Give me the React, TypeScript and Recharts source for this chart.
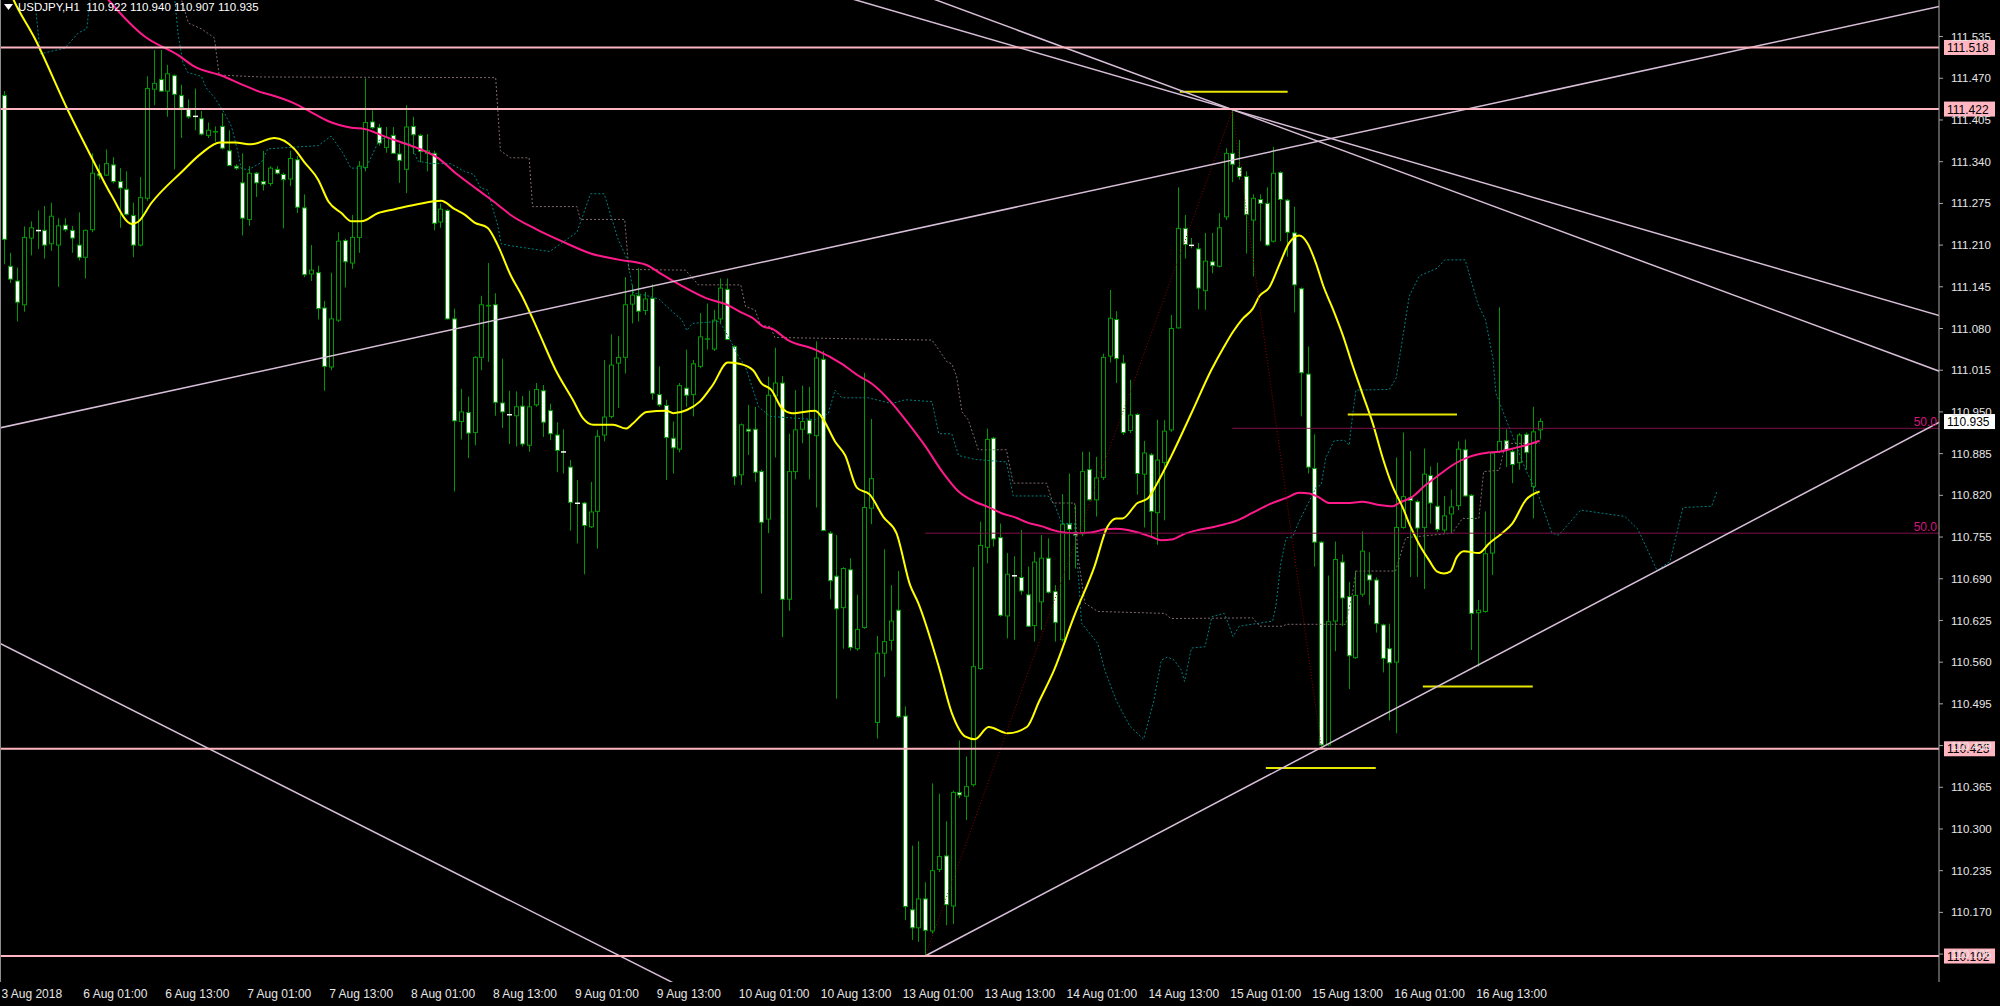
import React from 'react';
import { ComposedChart, Bar, Line, XAxis, YAxis, ReferenceLine } from 'recharts';

type Ohlc = [number, number, number, number];

// hourly candles, open / high / low / close, one array per trading day
const aug03: Ohlc[] = [
  [111.443, 111.45, 111.18, 111.219], [111.177, 111.198, 111.151, 111.157], [111.154, 111.175, 111.091, 111.121],
  [111.117, 111.239, 111.106, 111.222], [111.221, 111.247, 111.194, 111.237], [111.233, 111.264, 111.204, 111.232],
  [111.233, 111.271, 111.189, 111.21], [111.212, 111.276, 111.201, 111.255], [111.21, 111.252, 111.145, 111.24],
  [111.241, 111.252, 111.231, 111.234], [111.233, 111.24, 111.198, 111.221],
];
const aug06: Ohlc[] = [
  [111.21, 111.261, 111.186, 111.191], [111.191, 111.234, 111.158, 111.233], [111.234, 111.353, 111.23, 111.322],
  [111.321, 111.336, 111.312, 111.318], [111.319, 111.359, 111.318, 111.337], [111.335, 111.347, 111.306, 111.309],
  [111.309, 111.33, 111.237, 111.299], [111.297, 111.325, 111.256, 111.258], [111.256, 111.276, 111.191, 111.21],
  [111.21, 111.316, 111.208, 111.284], [111.283, 111.473, 111.279, 111.454], [111.453, 111.514, 111.428, 111.462],
  [111.468, 111.514, 111.449, 111.45], [111.45, 111.491, 111.41, 111.477], [111.474, 111.476, 111.328, 111.445],
  [111.443, 111.46, 111.377, 111.424], [111.422, 111.437, 111.407, 111.41], [111.411, 111.454, 111.389, 111.41],
  [111.407, 111.419, 111.381, 111.383], [111.381, 111.401, 111.377, 111.389], [111.386, 111.395, 111.371, 111.387],
  [111.395, 111.416, 111.359, 111.361], [111.357, 111.389, 111.333, 111.334], [111.333, 111.336, 111.327, 111.33],
];
const aug07: Ohlc[] = [
  [111.307, 111.353, 111.225, 111.252], [111.25, 111.333, 111.24, 111.322], [111.322, 111.324, 111.285, 111.307],
  [111.309, 111.357, 111.295, 111.305], [111.306, 111.333, 111.302, 111.33], [111.328, 111.333, 111.32, 111.322],
  [111.32, 111.323, 111.236, 111.312], [111.313, 111.357, 111.302, 111.345], [111.343, 111.349, 111.26, 111.269],
  [111.268, 111.289, 111.16, 111.164], [111.165, 111.21, 111.154, 111.171], [111.167, 111.178, 111.094, 111.111],
  [111.112, 111.123, 110.983, 111.021], [111.02, 111.167, 111.015, 111.095], [111.093, 111.23, 111.09, 111.216],
  [111.217, 111.22, 111.144, 111.184], [111.182, 111.257, 111.173, 111.222], [111.222, 111.341, 111.198, 111.333],
  [111.331, 111.47, 111.325, 111.401], [111.402, 111.42, 111.391, 111.393], [111.393, 111.399, 111.365, 111.369],
  [111.362, 111.394, 111.354, 111.378], [111.381, 111.394, 111.352, 111.353], [111.352, 111.368, 111.307, 111.342],
];
const aug08: Ohlc[] = [
  [111.328, 111.428, 111.291, 111.394], [111.395, 111.41, 111.352, 111.382], [111.381, 111.383, 111.339, 111.356],
  [111.353, 111.383, 111.325, 111.357], [111.353, 111.357, 111.233, 111.244], [111.246, 111.275, 111.237, 111.266],
  [111.264, 111.266, 111.094, 111.095], [111.095, 111.111, 110.826, 110.936], [110.935, 110.986, 110.907, 110.95],
  [110.949, 110.974, 110.878, 110.917], [110.918, 111.037, 110.898, 111.035], [111.035, 111.131, 111.015, 111.117],
  [111.116, 111.182, 111.028, 111.116], [111.117, 111.135, 110.944, 110.965], [110.964, 111.033, 110.925, 110.95],
  [110.946, 110.983, 110.9, 110.944], [110.944, 110.982, 110.896, 110.958], [110.959, 110.975, 110.896, 110.9],
  [110.898, 110.983, 110.888, 110.958], [110.961, 110.995, 110.958, 110.985], [110.983, 110.992, 110.911, 110.934],
  [110.952, 110.963, 110.906, 110.916], [110.914, 110.934, 110.856, 110.89], [110.888, 110.923, 110.854, 110.886],
];
const aug09: Ohlc[] = [
  [110.864, 110.875, 110.765, 110.809], [110.808, 110.844, 110.745, 110.807], [110.808, 110.81, 110.697, 110.773],
  [110.771, 110.841, 110.769, 110.794], [110.795, 110.922, 110.737, 110.912], [110.914, 111.031, 110.904, 110.942],
  [110.943, 111.071, 110.94, 111.023], [111.026, 111.068, 110.956, 111.035], [111.035, 111.16, 111.01, 111.117],
  [111.118, 111.148, 111.088, 111.132], [111.131, 111.174, 111.091, 111.107], [111.108, 111.137, 111.101, 111.126],
  [111.127, 111.149, 110.969, 110.979], [110.977, 111.021, 110.958, 110.961], [110.96, 110.969, 110.844, 110.91],
  [110.909, 110.935, 110.854, 110.894], [110.892, 110.995, 110.887, 110.991], [110.987, 111.047, 110.958, 110.976],
  [110.977, 111.031, 110.943, 111.025], [111.021, 111.104, 111.018, 111.067], [111.064, 111.119, 111.047, 111.064],
  [111.048, 111.109, 111.045, 111.093], [111.095, 111.158, 111.088, 111.143], [111.141, 111.158, 111.062, 111.063],
];
const aug10: Ohlc[] = [
  [111.052, 111.054, 110.836, 110.849], [110.852, 110.932, 110.836, 110.93], [110.923, 110.961, 110.883, 110.92],
  [110.923, 110.958, 110.841, 110.856], [110.857, 110.86, 110.667, 110.778], [110.783, 111.005, 110.761, 110.976],
  [110.975, 111.05, 110.879, 110.995], [110.995, 111.006, 110.599, 110.658], [110.658, 110.916, 110.64, 110.857],
  [110.857, 110.984, 110.845, 110.922], [110.923, 110.991, 110.901, 110.935], [110.937, 110.989, 110.845, 110.916],
  [110.913, 111.06, 110.801, 111.034], [111.032, 111.045, 110.764, 110.765], [110.761, 110.764, 110.658, 110.687],
  [110.694, 110.758, 110.503, 110.643], [110.645, 110.708, 110.581, 110.706], [110.704, 110.722, 110.578, 110.583],
  [110.581, 110.665, 110.578, 110.611], [110.614, 111.011, 110.612, 110.801], [110.8, 110.939, 110.775, 110.846],
  [110.466, 110.601, 110.441, 110.574], [110.574, 110.736, 110.537, 110.592], [110.594, 110.68, 110.578, 110.624],
];
const aug13: Ohlc[] = [
  [110.641, 110.702, 110.473, 110.475], [110.476, 110.491, 110.158, 110.179], [110.174, 110.274, 110.127, 110.146],
  [110.146, 110.281, 110.124, 110.191], [110.191, 110.217, 110.102, 110.142], [110.141, 110.371, 110.137, 110.235],
  [110.237, 110.355, 110.233, 110.257], [110.258, 110.312, 110.15, 110.182], [110.18, 110.36, 110.152, 110.357],
  [110.357, 110.438, 110.348, 110.353], [110.351, 110.413, 110.314, 110.366], [110.369, 110.708, 110.366, 110.553],
  [110.55, 110.779, 110.548, 110.742], [110.739, 110.924, 110.714, 110.907], [110.909, 110.911, 110.74, 110.752],
  [110.754, 110.776, 110.631, 110.633], [110.632, 110.73, 110.597, 110.697], [110.695, 110.725, 110.595, 110.693],
  [110.692, 110.766, 110.665, 110.671], [110.665, 110.709, 110.615, 110.616], [110.617, 110.732, 110.592, 110.716],
  [110.654, 110.758, 110.61, 110.722], [110.722, 110.753, 110.667, 110.669], [110.67, 110.68, 110.592, 110.622],
];
const aug14: Ohlc[] = [
  [110.595, 110.822, 110.592, 110.775], [110.775, 110.854, 110.688, 110.767], [110.762, 110.805, 110.706, 110.758],
  [110.76, 110.888, 110.756, 110.857], [110.86, 110.888, 110.812, 110.813], [110.813, 110.88, 110.787, 110.847],
  [110.848, 111.041, 110.844, 111.035], [111.037, 111.14, 111.027, 111.096], [111.094, 111.107, 110.995, 111.033],
  [111.026, 111.039, 110.914, 110.918], [110.921, 111.0, 110.917, 110.945], [110.946, 110.948, 110.821, 110.854],
  [110.853, 110.905, 110.77, 110.886], [110.883, 110.886, 110.756, 110.795], [110.793, 110.938, 110.743, 110.875],
  [110.871, 110.937, 110.781, 110.92], [110.922, 111.101, 110.919, 111.08], [111.081, 111.3, 111.08, 111.236],
  [111.236, 111.257, 111.189, 111.211], [111.21, 111.221, 111.205, 111.208], [111.204, 111.213, 111.11, 111.143],
  [111.139, 111.229, 111.109, 111.185], [111.184, 111.229, 111.166, 111.178], [111.177, 111.26, 111.175, 111.237],
];
const aug15: Ohlc[] = [
  [111.254, 111.361, 111.249, 111.353], [111.353, 111.42, 111.308, 111.336], [111.331, 111.374, 111.312, 111.317],
  [111.317, 111.325, 111.197, 111.258], [111.249, 111.289, 111.161, 111.283], [111.281, 111.289, 111.216, 111.275],
  [111.275, 111.3, 111.208, 111.21], [111.216, 111.363, 111.214, 111.322], [111.323, 111.325, 111.216, 111.281],
  [111.28, 111.282, 111.192, 111.23], [111.229, 111.27, 111.105, 111.148], [111.142, 111.144, 110.943, 111.011],
  [111.009, 111.052, 110.854, 110.864], [110.862, 110.915, 110.709, 110.747], [110.747, 110.749, 110.429, 110.431],
  [110.431, 110.695, 110.429, 110.623], [110.624, 110.748, 110.577, 110.72], [110.716, 110.728, 110.616, 110.66],
  [110.662, 110.685, 110.518, 110.57], [110.567, 110.702, 110.565, 110.664], [110.666, 110.764, 110.662, 110.733],
  [110.696, 110.731, 110.649, 110.688], [110.688, 110.692, 110.606, 110.62], [110.618, 110.62, 110.544, 110.566],
];
const aug16: Ohlc[] = [
  [110.581, 110.62, 110.469, 110.559], [110.56, 110.879, 110.449, 110.77], [110.77, 110.918, 110.768, 110.818],
  [110.816, 110.889, 110.693, 110.812], [110.81, 110.813, 110.693, 110.769], [110.77, 110.893, 110.674, 110.853],
  [110.851, 110.865, 110.776, 110.808], [110.803, 110.871, 110.763, 110.767], [110.766, 110.819, 110.761, 110.788],
  [110.791, 110.829, 110.761, 110.802], [110.804, 110.904, 110.797, 110.892], [110.891, 110.907, 110.818, 110.819],
  [110.82, 110.822, 110.579, 110.636], [110.637, 110.657, 110.553, 110.641], [110.639, 110.795, 110.637, 110.729],
  [110.73, 110.888, 110.696, 110.886], [110.888, 111.113, 110.886, 110.904], [110.905, 110.923, 110.864, 110.891],
  [110.888, 110.891, 110.839, 110.868], [110.871, 110.917, 110.86, 110.914], [110.915, 110.918, 110.86, 110.887],
  [110.834, 110.958, 110.784, 110.919], [110.922, 110.94, 110.907, 110.935],
];

// indicator readings: [bar index, price]
const yellowMa = [
  [0, 111.63], [1.5, 111.592], [4.6, 111.532], [9.5, 111.419], [12.9, 111.347], [15.8, 111.288], [18.8, 111.243],
  [19.7, 111.246], [21.7, 111.276], [26.1, 111.324], [29, 111.353], [31.7, 111.37], [33.9, 111.37], [36.3, 111.367],
  [39.7, 111.377], [42.6, 111.36], [44.1, 111.339], [46.1, 111.312], [47.6, 111.278], [49.5, 111.26], [51, 111.247],
  [52.4, 111.247], [54.9, 111.26], [57.3, 111.266], [61.2, 111.275], [64.1, 111.279], [66.1, 111.266], [67.5, 111.258],
  [69, 111.245], [70.9, 111.237], [72.4, 111.21], [74.3, 111.163], [76, 111.13], [78.5, 111.072], [80.9, 111.015],
  [83.4, 110.969], [84.9, 110.94], [86.4, 110.93], [89.3, 110.93], [91.2, 110.924], [92.2, 110.932], [94.2, 110.95],
  [97.1, 110.952], [98.1, 110.948], [100.1, 110.953], [102, 110.966], [103.9, 110.992], [106.1, 111.027],
  [107.8, 111.025], [109.8, 111.015], [111, 110.995], [112.5, 110.984], [114, 110.956], [115.5, 110.948],
  [118.9, 110.952], [120.1, 110.938], [121.8, 110.904], [123.3, 110.882], [125, 110.832], [126.9, 110.821],
  [128.9, 110.786], [130.8, 110.761], [132.8, 110.68], [134, 110.652], [137, 110.553], [138.9, 110.481],
  [140.9, 110.444], [142.3, 110.44], [144.3, 110.459], [147.1, 110.449], [149.9, 110.459], [151.7, 110.499],
  [153.9, 110.548], [156.8, 110.631], [159.8, 110.709], [161.7, 110.771], [163, 110.784], [163.9, 110.784],
  [166.1, 110.808], [167.6, 110.815], [169, 110.839], [171, 110.88], [174, 110.948], [176.9, 111.015], [178.8, 111.052],
  [180.1, 111.075], [181.5, 111.095], [183, 111.111], [184, 111.131], [185.4, 111.144], [186.9, 111.18], [188.3, 111.213],
  [189.8, 111.225], [191, 111.213], [192.3, 111.18], [193.3, 111.147], [194.7, 111.111], [196.2, 111.069],
  [197.6, 111.023], [199.1, 110.977], [200.6, 110.931], [202, 110.879], [203.5, 110.833], [205, 110.8], [205.9, 110.776],
  [207.3, 110.745], [208.8, 110.719], [210, 110.701], [211, 110.698], [211.9, 110.701], [212.9, 110.724],
  [213.9, 110.733], [216.1, 110.73], [217.6, 110.745], [219.5, 110.761], [221, 110.776], [223, 110.813], [225, 110.826],
];
const pinkMa = [
  [14, 111.61], [15.4, 111.592], [20.7, 111.535], [25.6, 111.506], [28, 111.488], [32, 111.474], [34.8, 111.461],
  [37.8, 111.448], [39.2, 111.444], [42.6, 111.431], [45.1, 111.417], [47.6, 111.403], [51, 111.393], [52.9, 111.391],
  [55.9, 111.379], [58.3, 111.37], [60.7, 111.361], [63.6, 111.346], [66.5, 111.32], [69.5, 111.296], [72.4, 111.273],
  [74.3, 111.257], [78, 111.235], [82, 111.215], [86, 111.197], [90.3, 111.187], [94.2, 111.179], [96.2, 111.166],
  [99.1, 111.148], [103, 111.127], [106, 111.117], [107.9, 111.106], [109.8, 111.096], [111.3, 111.083],
  [112.5, 111.08], [114.9, 111.062], [118.9, 111.047], [122.8, 111.025], [125.3, 111.006], [127.2, 110.994],
  [130.2, 110.963], [132.1, 110.938], [135, 110.897], [137.5, 110.857], [139.9, 110.826], [142.3, 110.81],
  [144.2, 110.802], [146.2, 110.792], [148.1, 110.786], [150.1, 110.777], [152, 110.772], [154, 110.765],
  [155.4, 110.762], [156.9, 110.761], [159.3, 110.762], [161.3, 110.767], [162.8, 110.768], [164.7, 110.766],
  [166.2, 110.762], [168.2, 110.755], [169.6, 110.75], [171.1, 110.751], [173, 110.76], [175, 110.766],
  [177.4, 110.771], [178.9, 110.775], [180.5, 110.78], [183, 110.793], [185.4, 110.806], [187.9, 110.816],
  [189.8, 110.824], [191.3, 110.823], [192.8, 110.816], [194.2, 110.808], [196.7, 110.808], [199.1, 110.81],
  [201.5, 110.805], [203.5, 110.803], [204.4, 110.808], [206.4, 110.818], [208.3, 110.836], [210.3, 110.852],
  [212.7, 110.87], [214.7, 110.88], [217.1, 110.886], [219.1, 110.888], [221.1, 110.893], [223, 110.898], [225, 110.905],
];
const spanLine = [
  [4, 111.62], [4.6, 111.592], [5.4, 111.508], [9, 111.517], [11, 111.541], [12.2, 111.547], [12.7, 111.592],
  [13.2, 111.62], [24.6, 111.62], [25.1, 111.592], [25.6, 111.538], [26.3, 111.494], [27, 111.479], [29, 111.473],
  [29.7, 111.455], [30.9, 111.44], [32.2, 111.419], [33.4, 111.395], [34.4, 111.353], [34.8, 111.33], [35.8, 111.327],
  [37.8, 111.339], [38.7, 111.36], [46.1, 111.365], [48, 111.38], [49.7, 111.354], [50.9, 111.33], [53.1, 111.33],
  [55, 111.373], [56, 111.378], [59.7, 111.367], [60.7, 111.341], [62.6, 111.337], [65.5, 111.337], [67.5, 111.325],
  [68.9, 111.32], [69.9, 111.299], [70.9, 111.296], [72.4, 111.241], [72.9, 111.212], [74.3, 111.209], [80, 111.2],
  [84, 111.23], [86, 111.29], [88, 111.29], [90, 111.22], [91.4, 111.187], [92.3, 111.135], [94, 111.132],
  [96, 111.126], [97.5, 111.111], [99.4, 111.093], [100.1, 111.077], [100.9, 111.088], [104.8, 111.091],
  [105.5, 111.08], [106.7, 111.057], [107.7, 111.036], [108.7, 111.02], [109.9, 110.981], [110.6, 110.958],
  [112.3, 110.943], [118.9, 110.938], [120.8, 110.947], [121.8, 110.984], [122.8, 110.972], [126.7, 110.972],
  [130.1, 110.963], [132.1, 110.969], [136, 110.966], [137, 110.916], [138.9, 110.916], [139.9, 110.882],
  [142.3, 110.876], [146.9, 110.872], [147.9, 110.819], [153, 110.819], [154, 110.805], [155, 110.776],
  [156.9, 110.776], [157.6, 110.672], [157.9, 110.621], [160.3, 110.589], [161.3, 110.548], [163, 110.5],
  [165, 110.46], [167, 110.44], [168.5, 110.5], [169.6, 110.563], [170.5, 110.568], [171.5, 110.563],
  [172.5, 110.548], [173, 110.53], [174, 110.582], [176, 110.584], [177, 110.631], [178.8, 110.636],
  [179.1, 110.629], [180.1, 110.6], [181, 110.616], [185.9, 110.624], [186.4, 110.649], [187.1, 110.715],
  [187.9, 110.754], [188.8, 110.755], [189.8, 110.78], [192.3, 110.833], [193, 110.836], [193.7, 110.879],
  [194.9, 110.905], [196.4, 110.906], [197.1, 110.898], [197.6, 110.944], [198.1, 110.984], [203, 110.985],
  [204, 111.003], [205, 111.069], [205.9, 111.13], [207.4, 111.162], [210, 111.174], [211.1, 111.187],
  [214.1, 111.187], [216, 111.117], [217.1, 111.093], [218.2, 111.031], [218.6, 110.979], [223, 110.859],
  [224.9, 110.818], [226.8, 110.761], [227.8, 110.758], [231, 110.797], [237.5, 110.787], [239.4, 110.767],
  [242.2, 110.703], [244.1, 110.717], [246, 110.801], [250.2, 110.803], [251, 110.827],
];
const baseLine = [
  [25, 111.62], [26.1, 111.592], [27.1, 111.556], [29, 111.547], [30.9, 111.533], [31.6, 111.475], [37.8, 111.472],
  [72.1, 111.471], [72.8, 111.357], [74.3, 111.346], [77, 111.346], [77.5, 111.27], [84, 111.27], [84.5, 111.25],
  [91, 111.25], [91.6, 111.172], [99.9, 111.171], [101.8, 111.148], [108, 111.148], [108.7, 111.114],
  [110.1, 111.109], [110.9, 111.085], [112.3, 111.083], [113, 111.066], [136, 111.062], [137, 111.047],
  [138.2, 111.028], [138.9, 111.025], [139.6, 111.006], [140.4, 110.95], [141.3, 110.938], [142.8, 110.891],
  [146.9, 110.891], [147.9, 110.839], [152.8, 110.839], [153.7, 110.808], [156.9, 110.808], [157.4, 110.724],
  [158.4, 110.652], [160.3, 110.639], [170.1, 110.636], [171, 110.628], [183, 110.629], [184, 110.616],
  [187.4, 110.616], [187.9, 110.619], [196.6, 110.619], [197.6, 110.668], [198.1, 110.702], [203.9, 110.702],
  [205.4, 110.754], [212.2, 110.761], [213.7, 110.784], [216.1, 110.784], [216.8, 110.857], [219.1, 110.859],
  [220, 110.901], [225, 110.901],
];

// drawn objects
const trendLines = [
  [[-1, 110.924], [290, 111.597]],
  [[120, 111.607], [290, 111.08]],
  [[130, 111.618], [290, 110.988]],
  [[-1, 110.592], [100, 110.05]],
  [[135, 110.102], [290, 110.97]],
];
const levels = [111.518, 111.422, 110.425, 110.102];
const yellowMarks = [
  [[172.3, 111.449], [188.1, 111.449]],
  [[196.9, 110.946], [212.9, 110.946]],
  [[207.9, 110.522], [224, 110.522]],
  [[184.9, 110.395], [201, 110.395]],
];
const fibBases = [
  [[135, 110.102], [180, 111.42]],
  [[180, 111.42], [193, 110.429]],
];
const fibHalf = [
  [135, 110.761],
  [180, 110.9245],
];
const lastPrice = 110.935;
const quote = ['110.922', '110.940', '110.907', '110.935'];

const priceTicks = [
  111.535, 111.47, 111.405, 111.34, 111.275, 111.21, 111.145, 111.08, 111.015, 110.95, 110.885, 110.82, 110.755,
  110.69, 110.625, 110.56, 110.495, 110.43, 110.365, 110.3, 110.235, 110.17, 110.105,
];
const timeTickIdx = [0, 12, 24, 36, 48, 60, 72, 84, 96, 108, 120, 132, 144, 156, 168, 180, 192, 204, 216];
const timeLabels = [
  '3 Aug 2018', '6 Aug 01:00', '6 Aug 13:00', '7 Aug 01:00', '7 Aug 13:00', '8 Aug 01:00', '8 Aug 13:00',
  '9 Aug 01:00', '9 Aug 13:00', '10 Aug 01:00', '10 Aug 13:00', '13 Aug 01:00', '13 Aug 13:00', '14 Aug 01:00',
  '14 Aug 13:00', '15 Aug 01:00', '15 Aug 13:00', '16 Aug 01:00', '16 Aug 13:00',
];

const SLOTS = 284;
const PLOT_BOTTOM = 982;
const FONT = "'Liberation Sans', Arial, sans-serif";
const WICK = '#009a00';
const AXIS = '#a8a8a8';

const candles = [aug03, aug06, aug07, aug08, aug09, aug10, aug13, aug14, aug15, aug16].flat();
const rows = Array.from({ length: SLOTS }, (_, i) => {
  const k = candles[i];
  return k ? { i, o: k[0], h: k[1], l: k[2], c: k[3] } : { i };
});
const pts = (list: number[][]) => list.map(([x, v]) => ({ x, v }));
const seg = (s: number[][]) => s.map(([x, y]) => ({ x, y }));

function Candle(props: any) {
  const { x, y, width, height, payload } = props;
  if (!payload || payload.h == null) return <g />;
  const { o, h, l, c } = payload;
  const top = Math.min(y, y + height);
  const bottom = Math.max(y, y + height);
  const span = h - l || 1;
  const at = (v: number) => top + ((h - v) / span) * (bottom - top);
  const cx = Math.round(x + width / 2) + 0.5;
  const bodyTop = at(Math.max(o, c));
  const bodyH = at(Math.min(o, c)) - bodyTop;
  const bear = c < o;
  return (
    <g>
      <line x1={cx} x2={cx} y1={top} y2={bottom} stroke={WICK} />
      {bodyH < 1.5 ? (
        <rect x={cx - 2.5} y={bodyTop - 0.5} width={5} height={1.5} fill={bear ? '#ffffff' : WICK} />
      ) : (
        <rect x={cx - 2} y={bodyTop} width={4} height={bodyH} fill={bear ? '#ffffff' : '#000000'} stroke={WICK} />
      )}
    </g>
  );
}

function PriceTag(props: any) {
  const { viewBox, text, bg } = props;
  if (!viewBox) return null;
  const x = viewBox.x + viewBox.width + 5;
  const y = viewBox.y;
  return (
    <g>
      <rect x={x} y={y - 7.5} width={51} height={15} fill={bg} />
      <text x={x + 3} y={y + 4.5} fill="#000" fontSize={12} fontFamily={FONT}>{text}</text>
    </g>
  );
}

function TimeTick(props: any) {
  const { x, payload } = props;
  const k = timeTickIdx.indexOf(payload.value);
  return (
    <text x={x - 2} y={PLOT_BOTTOM + 16} fill="#e6e6e6" fontSize={12} fontFamily={FONT} textAnchor="start">
      {timeLabels[k]}
    </text>
  );
}

export default function App() {
  return (
    <div style={{ position: 'fixed', left: 0, top: 0, width: 2000, height: 1006, background: '#000', overflow: 'hidden' }}>
      <ComposedChart width={2000} height={1006} data={rows} margin={{ top: 0, right: 0, bottom: 0, left: 0 }}>
        <XAxis xAxisId="cat" dataKey="i" type="category" hide />
        <XAxis
          xAxisId="num"
          dataKey="x"
          type="number"
          domain={[-0.5, SLOTS - 0.5]}
          allowDataOverflow
          ticks={timeTickIdx}
          interval={0}
          height={24}
          tickSize={4}
          stroke={AXIS}
          tick={<TimeTick />}
        />
        <YAxis
          orientation="right"
          width={61}
          type="number"
          domain={[110.0615, 111.592]}
          allowDataOverflow
          ticks={priceTicks}
          interval={0}
          tickSize={4}
          tickMargin={8}
          stroke={AXIS}
          tickFormatter={(v: number) => v.toFixed(3)}
          tick={{ fill: '#e6e6e6', fontSize: 11.5, fontFamily: FONT }}
        />

        <Bar
          xAxisId="cat"
          dataKey={(d: any) => (d.h == null ? null : [d.l, d.h])}
          barSize={5}
          shape={(p: any) => <Candle {...p} />}
          isAnimationActive={false}
        />

        <Line xAxisId="num" data={pts(spanLine)} dataKey="v" type="linear" stroke="#008080" strokeWidth={1}
          strokeDasharray="2 2" dot={false} activeDot={false} isAnimationActive={false} />
        <Line xAxisId="num" data={pts(baseLine)} dataKey="v" type="linear" stroke="#806a6a" strokeWidth={1}
          strokeDasharray="2 2" dot={false} activeDot={false} isAnimationActive={false} />
        <Line xAxisId="num" data={pts(pinkMa)} dataKey="v" type="monotone" stroke="#ff1a8c" strokeWidth={2}
          dot={false} activeDot={false} isAnimationActive={false} />
        <Line xAxisId="num" data={pts(yellowMa)} dataKey="v" type="monotone" stroke="#ffff00" strokeWidth={2}
          dot={false} activeDot={false} isAnimationActive={false} />

        {fibBases.map((s, k) => (
          <ReferenceLine key={'fb' + k} xAxisId="num" segment={seg(s)} stroke="#8b0000" strokeDasharray="1 2" ifOverflow="hidden" />
        ))}
        {fibHalf.map(([from, y], k) => (
          <ReferenceLine
            key={'fh' + k}
            xAxisId="num"
            segment={[{ x: from, y }, { x: SLOTS - 0.5, y }]}
            stroke="#80104a"
            ifOverflow="hidden"
            label={{ value: '50.0', position: 'insideBottomRight', offset: 2, fill: '#d4177f', fontSize: 12, fontFamily: FONT }}
          />
        ))}
        {yellowMarks.map((s, k) => (
          <ReferenceLine key={'ym' + k} xAxisId="num" segment={seg(s)} stroke="#e6e600" strokeWidth={2} ifOverflow="hidden" />
        ))}
        {trendLines.map((s, k) => (
          <ReferenceLine key={'tl' + k} xAxisId="num" segment={seg(s)} stroke="#d8bfd8" strokeWidth={1.5} ifOverflow="hidden" />
        ))}
        {levels.map((v) => (
          <ReferenceLine key={'lv' + v} xAxisId="num" y={v} stroke="#ffb6c1" strokeWidth={2}
            label={<PriceTag text={v.toFixed(3)} bg="#ffb6c1" />} />
        ))}
        <ReferenceLine xAxisId="num" y={lastPrice} stroke="none" strokeOpacity={0}
          label={<PriceTag text={lastPrice.toFixed(3)} bg="#ffffff" />} />
      </ComposedChart>

      <div style={{ position: 'absolute', left: 0, top: 0, width: 1, height: PLOT_BOTTOM, background: '#8c8c8c' }} />
      <div style={{ position: 'absolute', left: 4, top: 1, color: '#fff', fontFamily: FONT, fontSize: 11.5, whiteSpace: 'pre', display: 'flex', alignItems: 'center', gap: 5 }}>
        <svg width={9} height={6}><polygon points="0,0 9,0 4.5,6" fill="#fff" /></svg>
        <span>{'USDJPY,H1  ' + quote.join(' ')}</span>
      </div>
    </div>
  );
}
